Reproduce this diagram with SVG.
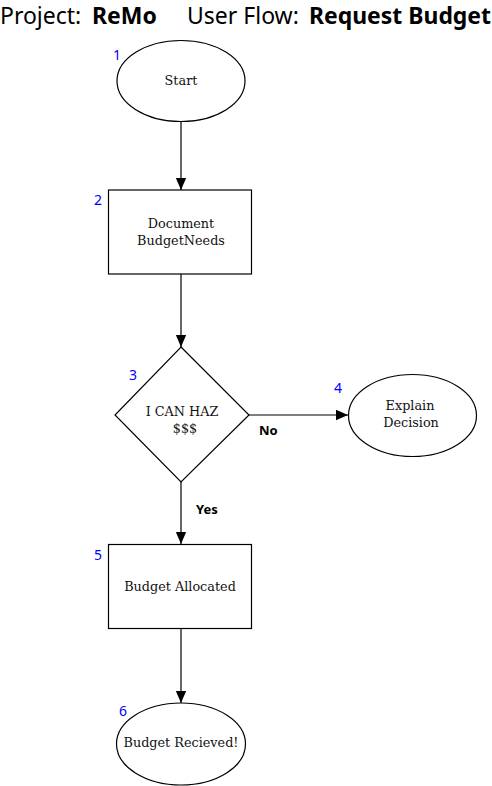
<svg xmlns="http://www.w3.org/2000/svg" width="492" height="786" viewBox="0 0 492 786">
<defs>
<marker id="ah" markerWidth="12" markerHeight="14" refX="14" refY="6" viewBox="0 0 14 12" markerUnits="userSpaceOnUse" orient="auto">
<path d="M0,0 L14,6 L0,12 Z" fill="#000"/>
</marker>
<style>
.shape{fill:#fff;stroke:#000;stroke-width:1.2}
.lbl{font-family:"DejaVu Serif","Liberation Serif",serif;font-size:12.8px;fill:#111;text-anchor:middle}
.num{font-family:"Noto Sans","Open Sans",sans-serif;font-size:14px;fill:#0000ff}
.edge{stroke:#000;stroke-width:1.2;fill:none;marker-end:url(#ah)}
.elbl{font-family:"Noto Sans","Open Sans",sans-serif;font-size:13px;font-weight:bold;fill:#000}
.title{font-family:"Noto Sans","Open Sans",sans-serif;font-size:23px;fill:#000}
.b{font-weight:bold}
</style>
</defs>
<rect width="492" height="786" fill="#fff"/>
<g id="title">
<text class="title" x="0" y="24">Project:</text>
<text class="title b" x="92" y="24">ReMo</text>
<text class="title" x="187" y="24">User Flow:</text>
<text class="title b" x="309" y="24" textLength="182" lengthAdjust="spacingAndGlyphs">Request Budget</text>
</g>
<g id="connectors">
<line class="edge" x1="181" y1="122" x2="181" y2="190"/>
<line class="edge" x1="181" y1="274" x2="181" y2="347"/>
<line class="edge" x1="249" y1="415" x2="348" y2="415"/>
<line class="edge" x1="181" y1="482" x2="181" y2="544"/>
<line class="edge" x1="181" y1="628" x2="181" y2="703"/>
<text class="elbl" x="259" y="435">No</text>
<text class="elbl" x="196" y="514">Yes</text>
</g>
<g id="n1">
<ellipse class="shape" cx="181" cy="81" rx="64" ry="40.5"/>
<text class="lbl" x="181" y="85">Start</text>
<text class="num" x="113" y="60">1</text>
</g>
<g id="n2">
<rect class="shape" x="108.5" y="190" width="143" height="84"/>
<text class="lbl" x="181" y="228">Document</text>
<text class="lbl" x="181" y="245">BudgetNeeds</text>
<text class="num" x="94" y="205">2</text>
</g>
<g id="n3">
<polygon class="shape" points="181,347 249,415 181,482 115,415"/>
<text class="lbl" x="182" y="416">I CAN HAZ</text>
<text class="lbl" x="185" y="433">$$$</text>
<text class="num" x="129" y="380">3</text>
</g>
<g id="n4">
<ellipse class="shape" cx="412.5" cy="415.5" rx="64" ry="41"/>
<text class="lbl" x="410" y="410">Explain</text>
<text class="lbl" x="411" y="427">Decision</text>
<text class="num" x="334" y="393">4</text>
</g>
<g id="n5">
<rect class="shape" x="108.5" y="544.5" width="143" height="84"/>
<text class="lbl" x="180" y="591">Budget Allocated</text>
<text class="num" x="94" y="560">5</text>
</g>
<g id="n6">
<ellipse class="shape" cx="181" cy="744" rx="64.5" ry="41"/>
<text class="lbl" x="181" y="747">Budget Recieved!</text>
<text class="num" x="119" y="716">6</text>
</g>
</svg>
